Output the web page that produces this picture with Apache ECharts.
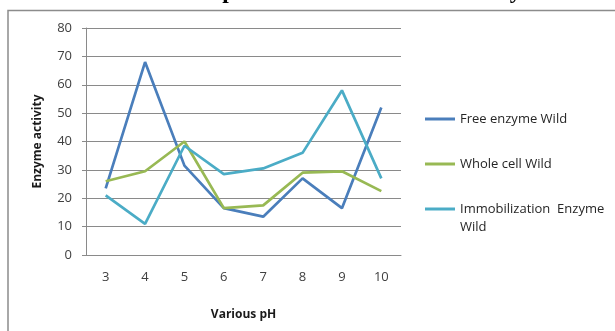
<!DOCTYPE html>
<html>
<head>
<meta charset="utf-8">
<script src="https://cdn.jsdelivr.net/npm/echarts@6/dist/echarts.min.js"></script>
<style>
  html, body { margin: 0; padding: 0; background: #ffffff; }
  #chart { width: 615px; height: 331px; }
</style>
</head>
<body>
<div id="chart"></div>
<script>
// pH values on the x axis
const phLevels = ['3', '4', '5', '6', '7', '8', '9', '10'];

// Enzyme activity for each form of the wild-type enzyme
const freeEnzymeWild = [23.5, 68, 31.5, 16.5, 13.5, 27, 16.5, 52];
const wholeCellWild = [26, 29.5, 40, 16.5, 17.5, 29, 29.5, 22.5];
const immobilizedEnzymeWild = [21, 11, 38.5, 28.5, 30.5, 36, 58, 27];

const seriesNames = ['Free enzyme Wild', 'Whole cell Wild', 'Immobilization Enzyme Wild'];
const seriesColors = ['#4A7EBB', '#98B954', '#4BACC6'];

const FONT = '"Open Sans", sans-serif';
const GRID_COLOR = '#8a8a8a';

const chart = echarts.init(document.getElementById('chart'), null, { renderer: 'canvas' });

function makeSeries(name, data, color) {
  return {
    name: name,
    type: 'line',
    data: data,
    symbol: 'none',
    smooth: false,
    lineStyle: { color: color, width: 2.7 },
    itemStyle: { color: color },
    z: 3
  };
}

const legendText = { fontFamily: FONT, fontSize: 13, color: '#262626', lineHeight: 18 };

chart.setOption({
  animation: false,
  backgroundColor: '#ffffff',
  title: {
    text: 'Effect of pH on the Wild forms activity',
    left: 131,
    top: -20,
    padding: 0,
    textStyle: {
      fontFamily: '"Liberation Serif", "Times New Roman", serif',
      fontWeight: 'bold',
      fontSize: 23.5,
      color: '#000000'
    }
  },
  graphic: [{
    type: 'rect',
    silent: true,
    shape: { x: 8, y: 10.5, width: 700, height: 400 },
    style: { fill: 'none', stroke: '#8c8c8c', lineWidth: 1.5 },
    z: 0
  }],
  grid: { left: 86, right: 214, top: 28, bottom: 76, containLabel: false },
  legend: [{
    orient: 'vertical',
    left: 425,
    top: 110,
    padding: 0,
    itemWidth: 30,
    itemHeight: 3,
    itemGap: 27,
    icon: 'rect',
    data: [seriesNames[0], seriesNames[1]],
    textStyle: legendText
  }, {
    // the leading empty line keeps the icon level with the first line of text
    orient: 'vertical',
    left: 425,
    top: 182,
    padding: 0,
    itemWidth: 30,
    itemHeight: 3,
    icon: 'rect',
    data: [seriesNames[2]],
    formatter: function () { return '\nImmobilization  Enzyme\nWild'; },
    textStyle: legendText
  }],
  xAxis: {
    type: 'category',
    data: phLevels,
    boundaryGap: true,
    name: 'Various pH',
    nameLocation: 'middle',
    nameGap: 54,
    nameTextStyle: { fontFamily: FONT, fontSize: 12, fontWeight: 'bold', color: '#1a1a1a' },
    axisLine: { show: true, lineStyle: { color: GRID_COLOR, width: 1 } },
    axisTick: { show: false },
    axisLabel: { fontFamily: FONT, fontSize: 13, color: '#404040', margin: 16 },
    splitLine: { show: false }
  },
  yAxis: {
    type: 'value',
    min: 0,
    max: 80,
    interval: 10,
    name: 'Enzyme activity',
    nameLocation: 'middle',
    nameGap: 42,
    nameRotate: 90,
    nameTextStyle: { fontFamily: FONT, fontSize: 12, fontWeight: 'bold', color: '#1a1a1a' },
    axisLine: { show: true, lineStyle: { color: GRID_COLOR, width: 1 } },
    axisTick: { show: true, length: 4, inside: false, lineStyle: { color: GRID_COLOR } },
    axisLabel: { fontFamily: FONT, fontSize: 13, color: '#404040', margin: 14 },
    splitLine: { show: true, lineStyle: { color: GRID_COLOR, width: 1 } }
  },
  series: [
    makeSeries(seriesNames[0], freeEnzymeWild, seriesColors[0]),
    makeSeries(seriesNames[1], wholeCellWild, seriesColors[1]),
    makeSeries(seriesNames[2], immobilizedEnzymeWild, seriesColors[2])
  ]
});
</script>
</body>
</html>
